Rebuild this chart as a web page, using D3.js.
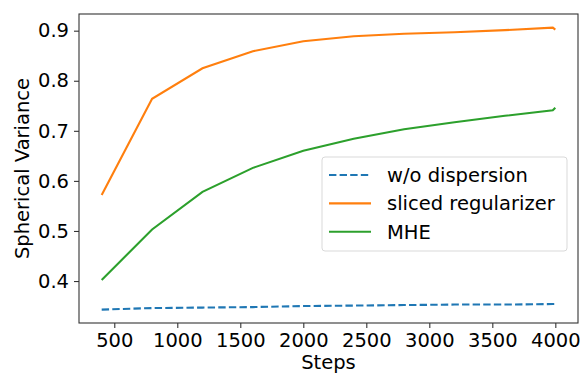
<!DOCTYPE html>
<html>
<head>
<meta charset="utf-8">
<script src="https://cdn.jsdelivr.net/npm/d3@7"></script>
<style>
  body { margin: 0; background: #fff; }
  text { font-family: "DejaVu Sans", sans-serif; fill: #000; }
</style>
</head>
<body>
<svg id="chart"></svg>
<script>
// Data
const steps = [400, 800, 1200, 1600, 2000, 2400, 2800, 3200, 3600, 3980, 4000];
const noDispersion = [0.343, 0.346, 0.347, 0.348, 0.350, 0.351, 0.352, 0.353, 0.353, 0.354, 0.354];
const sliced = [0.572, 0.764, 0.825, 0.859, 0.879, 0.889, 0.894, 0.897, 0.901, 0.906, 0.902];
const mhe = [0.402, 0.503, 0.578, 0.626, 0.660, 0.684, 0.703, 0.717, 0.730, 0.741, 0.746];
const xTicks = [500, 1000, 1500, 2000, 2500, 3000, 3500, 4000];
const yTicks = [0.4, 0.5, 0.6, 0.7, 0.8, 0.9];

const series = [
  { name: "w/o dispersion", values: noDispersion, color: "#1f77b4", dash: "7.4,3.2" },
  { name: "sliced regularizer", values: sliced, color: "#ff7f0e", dash: null },
  { name: "MHE", values: mhe, color: "#2ca02c", dash: null }
];

const width = 585, height = 374;
const margin = { top: 14, right: 7, bottom: 51, left: 79 };
const innerW = width - margin.left - margin.right;
const innerH = height - margin.top - margin.bottom;

const svg = d3.select("#chart").attr("width", width).attr("height", height);
const g = svg.append("g").attr("transform", `translate(${margin.left},${margin.top})`);

const x = d3.scaleLinear().domain([220, 4180]).range([0, innerW]);
const y = d3.scaleLinear().domain([0.3162, 0.9333]).range([innerH, 0]);

// Axes
const xAxis = d3.axisBottom(x).tickValues(xTicks).tickSize(5).tickPadding(5).tickFormat(d3.format("d"));
const yAxis = d3.axisLeft(y).tickValues(yTicks).tickSize(5).tickPadding(5).tickFormat(d3.format(".1f"));

const xG = g.append("g").attr("transform", `translate(0,${innerH})`).call(xAxis);
const yG = g.append("g").call(yAxis);
[xG, yG].forEach(a => {
  a.select(".domain").remove();
  a.selectAll(".tick line").attr("stroke", "#333").attr("stroke-width", 1.1);
  a.selectAll(".tick text").style("font-size", "19.5px").style("font-family", "DejaVu Sans").attr("fill", "#000");
});

// Lines
const line = d3.line().x((d, i) => x(steps[i])).y(d => y(d));
series.forEach(s => {
  g.append("path")
    .datum(s.values)
    .attr("d", line)
    .attr("fill", "none")
    .attr("stroke", s.color)
    .attr("stroke-width", 2.1)
    .attr("stroke-dasharray", s.dash);
});

// Frame
g.append("rect")
  .attr("width", innerW).attr("height", innerH)
  .attr("fill", "none").attr("stroke", "#333").attr("stroke-width", 1.1);

// Axis titles
svg.append("text")
  .attr("x", margin.left + innerW / 2).attr("y", 369)
  .attr("text-anchor", "middle").style("font-size", "19.5px")
  .text("Steps");
svg.append("text")
  .attr("transform", `translate(29,${margin.top + innerH / 2}) rotate(-90)`)
  .attr("text-anchor", "middle").style("font-size", "19.5px")
  .text("Spherical Variance");

// Legend
const legend = svg.append("g").attr("transform", "translate(322,157)");
legend.append("rect")
  .attr("width", 245).attr("height", 94).attr("rx", 3)
  .attr("fill", "#fff").attr("fill-opacity", 0.8)
  .attr("stroke", "#d9d9d9").attr("stroke-width", 1);
series.forEach((s, i) => {
  const cy = 18 + i * 28.4;
  legend.append("line")
    .attr("x1", 7).attr("x2", 49).attr("y1", cy).attr("y2", cy)
    .attr("stroke", s.color).attr("stroke-width", 2.1)
    .attr("stroke-dasharray", s.dash);
  legend.append("text")
    .attr("x", 65).attr("y", cy).attr("dy", "0.36em")
    .style("font-size", "19.5px")
    .text(s.name);
});
</script>
</body>
</html>
